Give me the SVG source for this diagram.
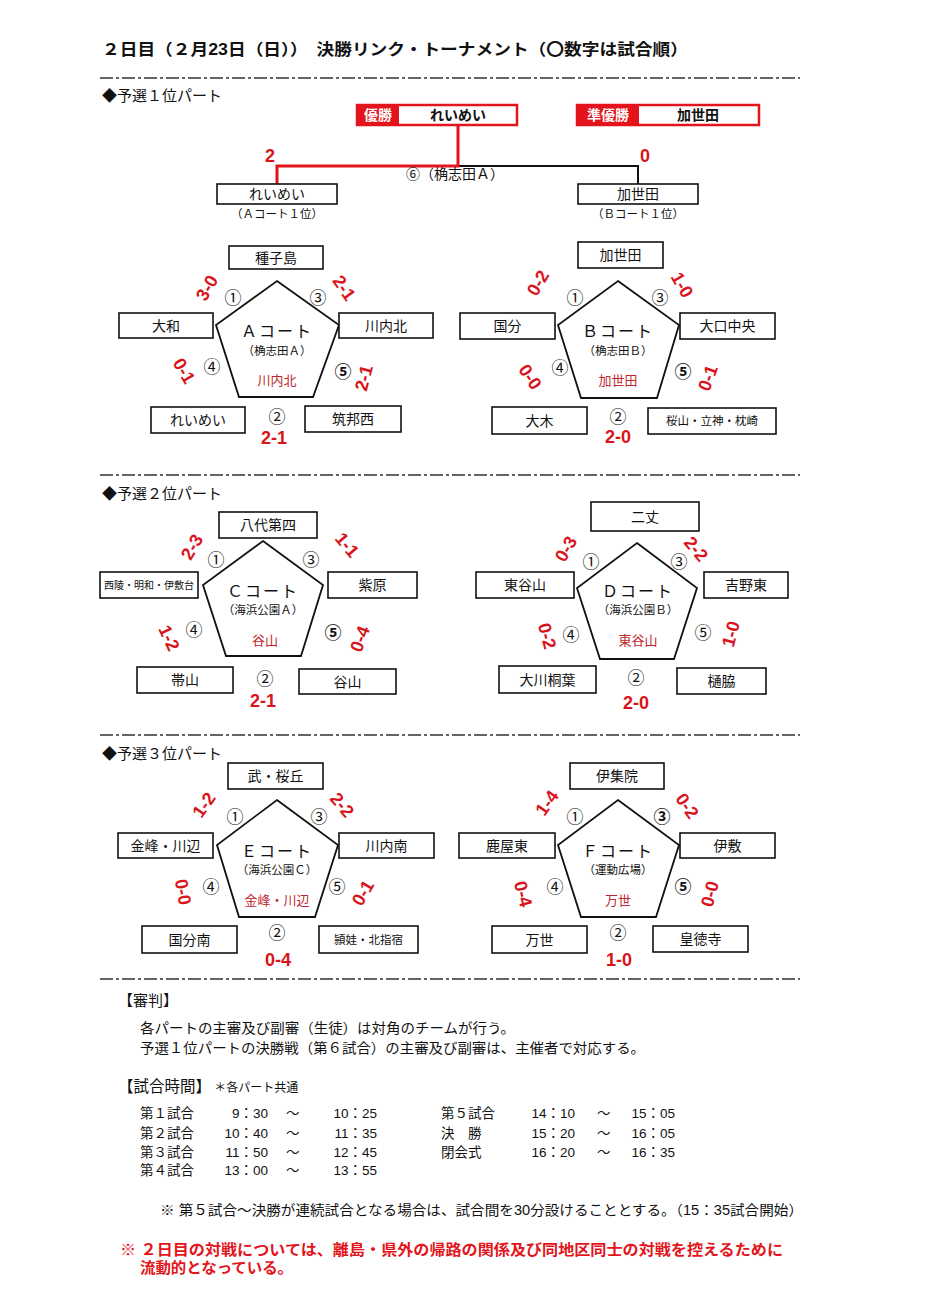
<svg xmlns="http://www.w3.org/2000/svg" width="930" height="1315" viewBox="0 0 930 1315">
<style>
text{font-family:"Liberation Sans","Noto Sans CJK JP",sans-serif;fill:#111}
.t{font-size:14px;text-anchor:middle;dominant-baseline:central}
.ts{font-size:11.5px;text-anchor:middle;dominant-baseline:central}
.box{fill:#fff;stroke:#111;stroke-width:1.6}
.pent{fill:#fff;stroke:#111;stroke-width:1.8}
.court{font-size:16px;text-anchor:middle;dominant-baseline:central;letter-spacing:2px}
.venue{font-size:11.5px;text-anchor:middle;dominant-baseline:central}
.win{font-size:13px;text-anchor:middle;dominant-baseline:central;fill:#c0262c}
.num{font-size:17px;text-anchor:middle;dominant-baseline:central}
.numb{font-size:17px;text-anchor:middle;dominant-baseline:central;font-weight:bold}
.sc{font-size:18px;font-weight:bold;text-anchor:middle;dominant-baseline:central;fill:#d9141b}
.sep{stroke:#333;stroke-width:1.6;stroke-dasharray:13 3 3 3}
.hd{font-size:15px}
.body{font-size:14px}
.red{fill:#e3141b;font-weight:bold;font-size:15px}
</style>

<!-- title -->
<text x="102" y="55" style="font-size:16px;font-weight:bold" textLength="586" lengthAdjust="spacingAndGlyphs">２日目（２月23日（日））　決勝リンク・トーナメント（〇数字は試合順）</text>

<g id="separators">
<line class="sep" x1="100" y1="78" x2="800" y2="78"/>
<line class="sep" x1="100" y1="475" x2="800" y2="475"/>
<line class="sep" x1="100" y1="735" x2="800" y2="735"/>
<line class="sep" x1="100" y1="979" x2="800" y2="979"/>
</g>

<text class="hd" x="102" y="101">◆予選１位パート</text>
<text class="hd" x="102" y="499">◆予選２位パート</text>
<text class="hd" x="102" y="759">◆予選３位パート</text>

<!-- tournament -->
<g id="connectors">
<polyline points="638,185 638,166 458,166" fill="none" stroke="#111" stroke-width="2"/>
<polyline points="458,126 458,166 277,166 277,185" fill="none" stroke="#e3141b" stroke-width="3"/>
</g>
<g id="champion">
<rect x="357" y="105" width="160" height="20" fill="#fff" stroke="#e3141b" stroke-width="2.5"/>
<rect x="357" y="105" width="42" height="20" fill="#e3141b"/>
<text x="378" y="115" class="t" style="fill:#fff;font-weight:bold;font-size:14px">優勝</text>
<text x="458" y="115" class="t" style="font-weight:bold;font-size:14px">れいめい</text>
</g>
<g id="runnerup">
<rect x="577" y="105" width="182" height="20" fill="#fff" stroke="#e3141b" stroke-width="2.5"/>
<rect x="577" y="105" width="62" height="20" fill="#e3141b"/>
<text x="608" y="115" class="t" style="fill:#fff;font-weight:bold;font-size:14px">準優勝</text>
<text x="698" y="115" class="t" style="font-weight:bold;font-size:14px">加世田</text>
</g>
<text x="270" y="156" class="sc">2</text>
<text x="645" y="156" class="sc">0</text>
<text x="455" y="174" class="t" style="font-size:14px">⑥（桷志田Ａ）</text>
<g id="final-a">
<rect class="box" x="217" y="184" width="120" height="20"/>
<text x="277" y="194" class="t">れいめい</text>
<text x="277" y="214" class="ts">（Ａコート１位）</text>
</g>
<g id="final-b">
<rect class="box" x="578" y="184" width="120" height="20"/>
<text x="638" y="194" class="t">加世田</text>
<text x="638" y="214" class="ts">（Ｂコート１位）</text>
</g>

<!-- Court A -->
<g id="courtA">
<polygon class="pent" points="277,281 339,325 313,397 239,397 216,325"/>
<text x="277" y="331" class="court">Ａコート</text>
<text x="277" y="351" class="venue">（桷志田Ａ）</text>
<text x="277" y="380" class="win">川内北</text>
<text x="233" y="298" class="num">①</text>
<text x="318" y="298" class="num">③</text>
<text x="212" y="367" class="num">④</text>
<text x="343" y="372" class="numb">⑤</text>
<text x="277" y="417" class="num">②</text>
<text x="274" y="438" class="sc">2-1</text>
<text class="sc" transform="translate(207,288) rotate(-60)">3-0</text>
<text class="sc" transform="translate(344,288) rotate(55)">2-1</text>
<text class="sc" transform="translate(184,371) rotate(60)">0-1</text>
<text class="sc" transform="translate(364,378) rotate(-75)">2-1</text>
</g>
<g id="A-tanegashima"><rect class="box" x="229" y="246" width="94" height="23"/><text x="276" y="257.5" class="t">種子島</text></g>
<g id="A-yamato"><rect class="box" x="119" y="313" width="94" height="25"/><text x="166" y="325.5" class="t">大和</text></g>
<g id="A-sendaikita"><rect class="box" x="339" y="313" width="94" height="25"/><text x="386" y="325.5" class="t">川内北</text></g>
<g id="A-reimei"><rect class="box" x="151" y="407" width="94" height="26"/><text x="198" y="420" class="t">れいめい</text></g>
<g id="A-chikuhonishi"><rect class="box" x="305" y="406" width="96" height="26"/><text x="353" y="419" class="t">筑邦西</text></g>

<!-- Court B -->
<g id="courtB">
<polygon class="pent" points="618,281 679,325 657,398 581,398 558,325"/>
<text x="618" y="331" class="court">Ｂコート</text>
<text x="618" y="351" class="venue">（桷志田Ｂ）</text>
<text x="618" y="380" class="win">加世田</text>
<text x="575" y="298" class="num">①</text>
<text x="660" y="298" class="num">③</text>
<text x="560" y="368" class="num">④</text>
<text x="683" y="372" class="numb">⑤</text>
<text x="618" y="417" class="num">②</text>
<text x="618" y="437" class="sc">2-0</text>
<text class="sc" transform="translate(538,283) rotate(-60)">0-2</text>
<text class="sc" transform="translate(682,285) rotate(60)">1-0</text>
<text class="sc" transform="translate(530,377) rotate(55)">0-0</text>
<text class="sc" transform="translate(708,378) rotate(-70)">0-1</text>
</g>
<g id="B-kaseda"><rect class="box" x="578" y="242" width="85" height="26"/><text x="620.5" y="255" class="t">加世田</text></g>
<g id="B-kokubu"><rect class="box" x="460" y="313" width="95" height="26"/><text x="507.5" y="326" class="t">国分</text></g>
<g id="B-okuchichuo"><rect class="box" x="680" y="313" width="95" height="26"/><text x="727.5" y="326" class="t">大口中央</text></g>
<g id="B-oki"><rect class="box" x="492" y="407" width="95" height="27"/><text x="539.5" y="420.5" class="t">大木</text></g>
<g id="B-sakurajima"><rect class="box" x="648" y="408" width="128" height="26"/><text x="712" y="421" class="ts">桜山・立神・枕崎</text></g>

<!-- Court C -->
<g id="courtC">
<polygon class="pent" points="263,541 323,585 301,656 226,656 203,585"/>
<text x="263" y="591" class="court">Ｃコート</text>
<text x="263" y="610" class="venue">（海浜公園Ａ）</text>
<text x="265" y="640" class="win">谷山</text>
<text x="216" y="560" class="num">①</text>
<text x="311" y="560" class="num">③</text>
<text x="194" y="630" class="num">④</text>
<text x="333" y="633" class="numb">⑤</text>
<text x="265" y="679" class="num">②</text>
<text x="263" y="701" class="sc">2-1</text>
<text class="sc" transform="translate(192,547) rotate(-60)">2-3</text>
<text class="sc" transform="translate(347,545) rotate(50)">1-1</text>
<text class="sc" transform="translate(169,638) rotate(65)">1-2</text>
<text class="sc" transform="translate(360,639) rotate(-70)">0-4</text>
</g>
<g id="C-yatsushiro"><rect class="box" x="219" y="512" width="98" height="26"/><text x="268" y="525" class="t">八代第四</text></g>
<g id="C-seiryo"><rect class="box" x="100" y="572" width="98" height="26"/><text x="149" y="585" class="ts" style="font-size:10px">西陵・明和・伊敷台</text></g>
<g id="C-murasakibaru"><rect class="box" x="328" y="572" width="89" height="26"/><text x="372.5" y="585" class="t">紫原</text></g>
<g id="C-obiyama"><rect class="box" x="137" y="667" width="96" height="26"/><text x="185" y="680" class="t">帯山</text></g>
<g id="C-taniyama"><rect class="box" x="299" y="669" width="97" height="25"/><text x="347.5" y="681.5" class="t">谷山</text></g>

<!-- Court D -->
<g id="courtD">
<polygon class="pent" points="637,543 697,588 674,659 600,659 577,588"/>
<text x="638" y="591" class="court">Ｄコート</text>
<text x="638" y="610" class="venue">（海浜公園Ｂ）</text>
<text x="638" y="640" class="win">東谷山</text>
<text x="591" y="562" class="num">①</text>
<text x="679" y="562" class="num">③</text>
<text x="571" y="635" class="num">④</text>
<text x="703" y="633" class="num">⑤</text>
<text x="636" y="678" class="num">②</text>
<text x="636" y="703" class="sc">2-0</text>
<text class="sc" transform="translate(566,549) rotate(-60)">0-3</text>
<text class="sc" transform="translate(696,549) rotate(50)">2-2</text>
<text class="sc" transform="translate(547,636) rotate(75)">0-2</text>
<text class="sc" transform="translate(731,634) rotate(-75)">1-0</text>
</g>
<g id="D-nijo"><rect class="box" x="591" y="502" width="108" height="29"/><text x="645" y="516.5" class="t">二丈</text></g>
<g id="D-higashitaniyama"><rect class="box" x="476" y="572" width="98" height="26"/><text x="525" y="585" class="t">東谷山</text></g>
<g id="D-yoshinohigashi"><rect class="box" x="704" y="572" width="84" height="26"/><text x="746" y="585" class="t">吉野東</text></g>
<g id="D-okawatoyo"><rect class="box" x="499" y="666" width="97" height="27"/><text x="547.5" y="679.5" class="t">大川桐葉</text></g>
<g id="D-hiwaki"><rect class="box" x="677" y="668" width="89" height="26"/><text x="721.5" y="681" class="t">樋脇</text></g>

<!-- Court E -->
<g id="courtE">
<polygon class="pent" points="277,800 338,845 315,917 239,917 217,845"/>
<text x="277" y="851" class="court">Ｅコート</text>
<text x="277" y="870" class="venue">（海浜公園Ｃ）</text>
<text x="277" y="900" class="win">金峰・川辺</text>
<text x="235" y="817" class="num">①</text>
<text x="319" y="817" class="num">③</text>
<text x="211" y="887" class="num">④</text>
<text x="337" y="887" class="num">⑤</text>
<text x="277" y="933" class="num">②</text>
<text x="278" y="960" class="sc">0-4</text>
<text class="sc" transform="translate(204,805) rotate(-55)">1-2</text>
<text class="sc" transform="translate(342,805) rotate(50)">2-2</text>
<text class="sc" transform="translate(183,892) rotate(80)">0-0</text>
<text class="sc" transform="translate(363,893) rotate(-60)">0-1</text>
</g>
<g id="E-takeshi"><rect class="box" x="228" y="763" width="95" height="26"/><text x="275.5" y="776" class="t">武・桜丘</text></g>
<g id="E-kinpo"><rect class="box" x="118" y="833" width="95" height="25"/><text x="165.5" y="845.5" class="t">金峰・川辺</text></g>
<g id="E-sendaiminami"><rect class="box" x="339" y="833" width="95" height="25"/><text x="386.5" y="845.5" class="t">川内南</text></g>
<g id="E-kokubuminami"><rect class="box" x="142" y="926" width="95" height="27"/><text x="189.5" y="939.5" class="t">国分南</text></g>
<g id="E-ei"><rect class="box" x="319" y="926" width="99" height="27"/><text x="368.5" y="939.5" class="ts">頴娃・北指宿</text></g>

<!-- Court F -->
<g id="courtF">
<polygon class="pent" points="618,800 679,845 656,917 581,917 558,845"/>
<text x="618" y="851" class="court">Ｆコート</text>
<text x="618" y="870" class="venue">（運動広場）</text>
<text x="618" y="900" class="win">万世</text>
<text x="575" y="817" class="num">①</text>
<text x="662" y="817" class="numb">③</text>
<text x="555" y="887" class="num">④</text>
<text x="683" y="887" class="numb">⑤</text>
<text x="618" y="933" class="num">②</text>
<text x="619" y="960" class="sc">1-0</text>
<text class="sc" transform="translate(547,803) rotate(-55)">1-4</text>
<text class="sc" transform="translate(687,806) rotate(55)">0-2</text>
<text class="sc" transform="translate(523,894) rotate(75)">0-4</text>
<text class="sc" transform="translate(710,894) rotate(-75)">0-0</text>
</g>
<g id="F-ijuin"><rect class="box" x="570" y="763" width="94" height="26"/><text x="617" y="776" class="t">伊集院</text></g>
<g id="F-kanoyahigashi"><rect class="box" x="459" y="833" width="96" height="25"/><text x="507" y="845.5" class="t">鹿屋東</text></g>
<g id="F-ishiki"><rect class="box" x="680" y="833" width="95" height="25"/><text x="727.5" y="845.5" class="t">伊敷</text></g>
<g id="F-bansei"><rect class="box" x="492" y="926" width="95" height="27"/><text x="539.5" y="939.5" class="t">万世</text></g>
<g id="F-kotokuji"><rect class="box" x="653" y="926" width="95" height="26"/><text x="700.5" y="939" class="t">皇徳寺</text></g>

<!-- notes -->
<text x="118" y="1006" class="hd">【審判】</text>
<text x="140" y="1033" class="body" textLength="375" lengthAdjust="spacingAndGlyphs">各パートの主審及び副審（生徒）は対角のチームが行う。</text>
<text x="140" y="1053" class="body" textLength="505" lengthAdjust="spacingAndGlyphs">予選１位パートの決勝戦（第６試合）の主審及び副審は、主催者で対応する。</text>
<text x="118" y="1092" style="font-size:15.5px">【試合時間】<tspan style="font-size:12px"> ＊各パート共通</tspan></text>

<g class="body" style="font-size:13.5px">
<text x="140" y="1118">第１試合</text>
<text x="140" y="1138">第２試合</text>
<text x="140" y="1157">第３試合</text>
<text x="140" y="1175">第４試合</text>
<text x="268" y="1118" text-anchor="end">9：30</text>
<text x="268" y="1138" text-anchor="end">10：40</text>
<text x="268" y="1157" text-anchor="end">11：50</text>
<text x="268" y="1175" text-anchor="end">13：00</text>
<text x="286" y="1118">～</text>
<text x="286" y="1138">～</text>
<text x="286" y="1157">～</text>
<text x="286" y="1175">～</text>
<text x="377" y="1118" text-anchor="end">10：25</text>
<text x="377" y="1138" text-anchor="end">11：35</text>
<text x="377" y="1157" text-anchor="end">12：45</text>
<text x="377" y="1175" text-anchor="end">13：55</text>
<text x="441" y="1118">第５試合</text>
<text x="441" y="1138">決　勝</text>
<text x="441" y="1157">閉会式</text>
<text x="575" y="1118" text-anchor="end">14：10</text>
<text x="575" y="1138" text-anchor="end">15：20</text>
<text x="575" y="1157" text-anchor="end">16：20</text>
<text x="597" y="1118">～</text>
<text x="597" y="1138">～</text>
<text x="597" y="1157">～</text>
<text x="675" y="1118" text-anchor="end">15：05</text>
<text x="675" y="1138" text-anchor="end">16：05</text>
<text x="675" y="1157" text-anchor="end">16：35</text>
</g>

<text x="160" y="1215" class="body" textLength="643" lengthAdjust="spacingAndGlyphs">※ 第５試合～決勝が連続試合となる場合は、試合間を30分設けることとする。（15：35試合開始）</text>
<text x="120" y="1255" class="red" textLength="663" lengthAdjust="spacingAndGlyphs">※ ２日目の対戦については、離島・県外の帰路の関係及び同地区同士の対戦を控えるために</text>
<text x="140" y="1273" class="red" textLength="153" lengthAdjust="spacingAndGlyphs">流動的となっている。</text>
</svg>
